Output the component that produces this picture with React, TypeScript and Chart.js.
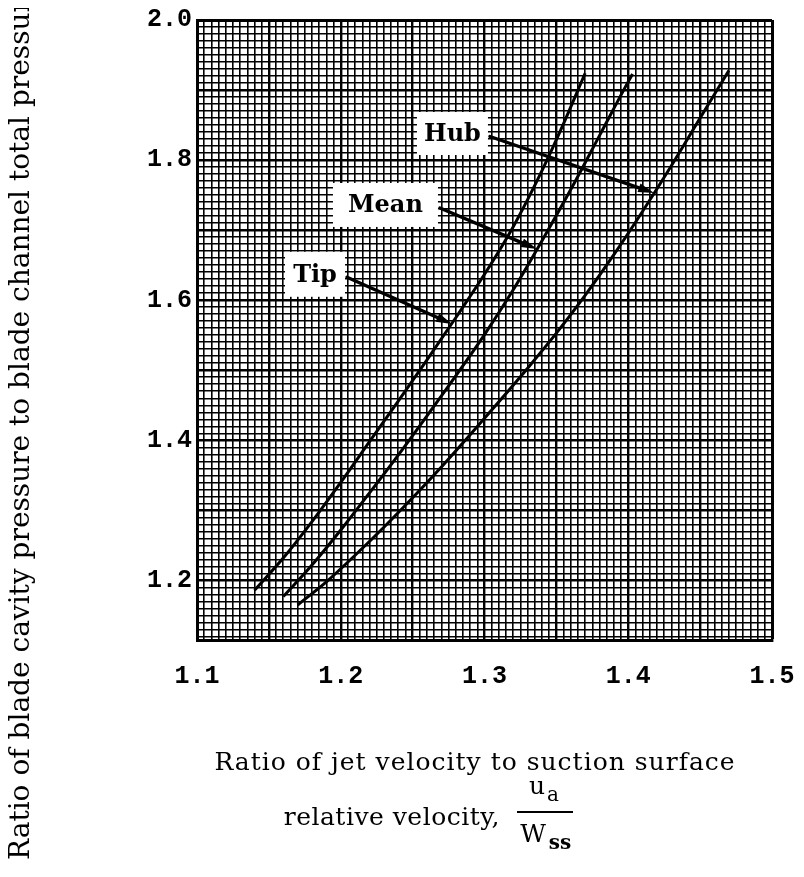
import React, { useEffect, useRef } from "react";
import { Chart, registerables } from "chart.js";

Chart.register(...registerables);

// ---- data ----
const tipX = [1.14, 1.16, 1.18, 1.2, 1.22, 1.24, 1.26, 1.28, 1.3, 1.32, 1.34, 1.355, 1.37];
const tipY = [1.186, 1.232, 1.284, 1.34, 1.398, 1.456, 1.515, 1.575, 1.637, 1.705, 1.785, 1.852, 1.924];

const meanX = [1.16, 1.18, 1.2, 1.22, 1.24, 1.26, 1.28, 1.3, 1.32, 1.34, 1.36, 1.38, 1.4, 1.403];
const meanY = [1.177, 1.222, 1.272, 1.325, 1.379, 1.435, 1.492, 1.551, 1.615, 1.685, 1.758, 1.835, 1.912, 1.923];

const hubX = [1.17, 1.19, 1.21, 1.23, 1.25, 1.27, 1.29, 1.31, 1.33, 1.35, 1.37, 1.39, 1.41, 1.43, 1.45, 1.47];
const hubY = [1.165, 1.198, 1.236, 1.276, 1.318, 1.362, 1.408, 1.455, 1.503, 1.553, 1.607, 1.665, 1.727, 1.792, 1.86, 1.928];

const curveNames = ["Tip", "Mean", "Hub"];

const xTickLabels = [1.1, 1.2, 1.3, 1.4, 1.5];
const yTickLabels = [1.2, 1.4, 1.6, 1.8, 2.0];

const X_MIN = 1.1;
const X_MAX = 1.5;
const Y_MIN = 1.115;
const Y_MAX = 2.0;
const X_GRID_STEP = 0.005;
const Y_GRID_STEP = 0.01;

const Y_TITLE = "Ratio of blade cavity pressure to blade channel total pressure";
const X_TITLE_1 = "Ratio of jet velocity to suction surface";
const X_TITLE_2 = "relative velocity,";

// label boxes (data coords of box centre) and arrow targets (points on curves)
const labelBoxes = [
  { text: "Hub", cx: 1.2777, cy: 1.838, w: 71, h: 43, tx: 1.418, ty: 1.753 },
  { text: "Mean", cx: 1.2311, cy: 1.736, w: 105, h: 44, tx: 1.3365, ty: 1.673 },
  { text: "Tip", cx: 1.1821, cy: 1.637, w: 60, h: 45, tx: 1.2774, ty: 1.566 },
];

function gridValues(min: number, max: number, step: number) {
  const out: number[] = [];
  const n = Math.round((max - min) / step);
  for (let i = 0; i <= n; i++) out.push(Math.round((min + i * step) * 1000) / 1000);
  return out;
}

function near(v: number, list: number[]) {
  return list.some((t) => Math.abs(t - v) < 1e-6);
}

function isMultiple(v: number, m: number) {
  const r = v / m;
  return Math.abs(r - Math.round(r)) < 1e-6;
}

const annotationPlugin = {
  id: "labelBoxes",
  afterDatasetsDraw(chart: any) {
    const { ctx, scales } = chart;
    const xs = scales.x;
    const ys = scales.y;
    ctx.save();
    for (const b of labelBoxes) {
      const cx = xs.getPixelForValue(b.cx);
      const cy = ys.getPixelForValue(b.cy);
      const tx = xs.getPixelForValue(b.tx);
      const ty = ys.getPixelForValue(b.ty);
      ctx.fillStyle = "#fff";
      ctx.fillRect(cx - b.w / 2, cy - b.h / 2, b.w, b.h);
      ctx.fillStyle = "#000";
      ctx.font = 'bold 24px "DejaVu Serif"';
      ctx.textAlign = "center";
      ctx.textBaseline = "middle";
      ctx.fillText(b.text, cx, cy + 1);
      // arrow
      const sx = cx + b.w / 2 + 2;
      const sy = cy + 3;
      const ang = Math.atan2(ty - sy, tx - sx);
      const headLen = 16;
      const headW = 4.5;
      const bx = tx - headLen * Math.cos(ang);
      const by = ty - headLen * Math.sin(ang);
      ctx.strokeStyle = "#000";
      ctx.lineWidth = 3.4;
      ctx.lineCap = "round";
      ctx.beginPath();
      ctx.moveTo(sx, sy);
      ctx.lineTo(bx, by);
      ctx.stroke();
      ctx.beginPath();
      ctx.moveTo(tx, ty);
      ctx.lineTo(bx + headW * Math.sin(ang), by - headW * Math.cos(ang));
      ctx.lineTo(bx - headW * Math.sin(ang), by + headW * Math.cos(ang));
      ctx.closePath();
      ctx.fill();
    }
    ctx.restore();
  },
};

const titlePlugin = {
  id: "titles",
  afterDraw(chart: any) {
    const { ctx } = chart;
    ctx.save();
    ctx.fillStyle = "#000";
    // y title (rotated, runs off the top like the reference)
    ctx.save();
    ctx.translate(14, 852);
    ctx.rotate(-Math.PI / 2);
    ctx.font = '28px "DejaVu Serif"';
    ctx.textAlign = "left";
    ctx.textBaseline = "middle";
    ctx.fillText(Y_TITLE, 0, 0);
    ctx.restore();

    ctx.textBaseline = "middle";
    ctx.font = '25px "DejaVu Serif"';
    (ctx as any).letterSpacing = "1px";
    ctx.textAlign = "center";
    ctx.fillText(X_TITLE_1, 467, 755);

    (ctx as any).letterSpacing = "0.5px";
    ctx.textAlign = "right";
    ctx.fillText(X_TITLE_2, 492, 810);
    (ctx as any).letterSpacing = "0px";

    // fraction u_a / W_ss
    const fx = 537;
    ctx.textAlign = "center";
    ctx.font = '25px "DejaVu Serif"';
    ctx.fillText("u", fx - 8, 779);
    ctx.font = '20px "DejaVu Serif"';
    ctx.fillText("a", fx + 8, 788);
    ctx.fillRect(fx - 28, 803, 56, 2);
    ctx.font = '25px "DejaVu Serif"';
    ctx.fillText("W", fx - 12, 827);
    ctx.font = 'bold 20px "DejaVu Serif"';
    ctx.fillText("ss", fx + 15, 836);
    ctx.restore();
  },
};

export default function App() {
  const ref = useRef<HTMLCanvasElement | null>(null);

  useEffect(() => {
    if (!ref.current) return;
    const xs = [tipX, meanX, hubX];
    const ysArr = [tipY, meanY, hubY];
    const datasets = curveNames.map((name, k) => ({
      label: name,
      data: xs[k].map((x, i) => ({ x, y: ysArr[k][i] })),
      showLine: true,
      borderColor: "#000",
      borderWidth: 3,
      pointRadius: 0,
      cubicInterpolationMode: "monotone" as const,
      fill: false,
    }));

    const xGrid = gridValues(X_MIN, X_MAX, X_GRID_STEP);
    const yGrid = gridValues(1.12, Y_MAX, Y_GRID_STEP);

    const tickFont = { family: '"Liberation Mono"', size: 25, weight: "bold" as const };

    const chart = new Chart(ref.current, {
      type: "scatter",
      data: { datasets },
      options: {
        animation: false,
        responsive: false,
        maintainAspectRatio: false,
        layout: { padding: { top: 12, right: 24, left: 0, bottom: 0 } },
        plugins: { legend: { display: false }, tooltip: { enabled: false } },
        scales: {
          x: {
            type: "linear",
            min: X_MIN,
            max: X_MAX,
            afterBuildTicks: (s: any) => {
              s.ticks = xGrid.map((v) => ({ value: v }));
            },
            afterFit: (s: any) => {
              s.height = 229;
              s.paddingLeft = 0;
              s.paddingRight = 0;
            },
            ticks: {
              autoSkip: false,
              maxRotation: 0,
              minRotation: 0,
              padding: 22,
              color: "#000",
              font: tickFont,
              callback: (v: any) => (near(Number(v), xTickLabels) ? Number(v).toFixed(1) : ""),
            },
            grid: {
              drawTicks: false,
              color: "#000",
              lineWidth: (c: any) => {
                const v = c.tick ? c.tick.value : 0;
                if (Math.abs(v - X_MAX) < 1e-6) return 3;
                if (isMultiple(v, 0.05)) return 2.4;
                return 1.6;
              },
            },
            border: { display: true, color: "#000", width: 3 },
          },
          y: {
            type: "linear",
            min: Y_MIN,
            max: Y_MAX,
            afterBuildTicks: (s: any) => {
              s.ticks = yGrid.map((v) => ({ value: v }));
            },
            afterFit: (s: any) => {
              s.width = 189;
              s.paddingTop = 0;
              s.paddingBottom = 0;
            },
            ticks: {
              autoSkip: false,
              padding: 5,
              color: "#000",
              font: tickFont,
              callback: (v: any) => (near(Number(v), yTickLabels) ? Number(v).toFixed(1) : ""),
            },
            grid: {
              drawTicks: false,
              color: "#000",
              lineWidth: (c: any) => {
                const v = c.tick ? c.tick.value : 0;
                if (Math.abs(v - Y_MAX) < 1e-6) return 3;
                if (isMultiple(v, 0.1)) return 2.4;
                return 1.6;
              },
            },
            border: { display: true, color: "#000", width: 3 },
          },
        },
      },
      plugins: [annotationPlugin, titlePlugin],
    });
    return () => chart.destroy();
  }, []);

  return <canvas ref={ref} width={788} height={861} style={{ display: "block" }} />;
}
